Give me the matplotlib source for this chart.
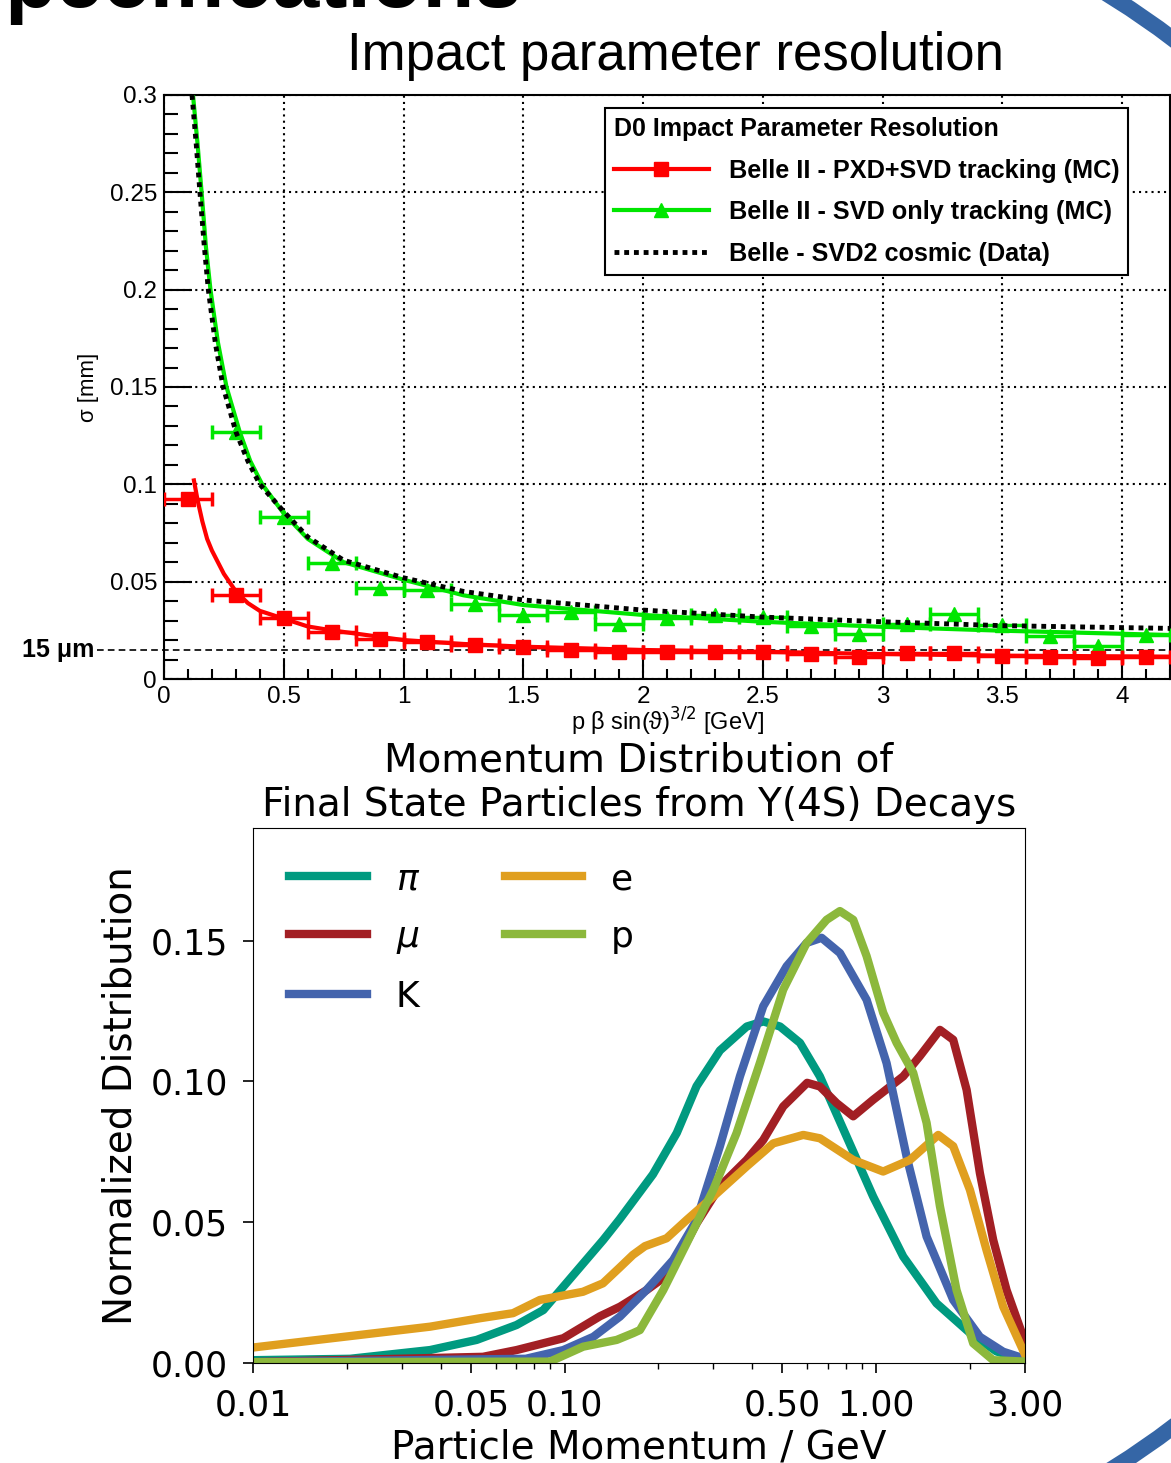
import numpy as np
import matplotlib
matplotlib.use('Agg')
import matplotlib.pyplot as plt
from matplotlib.lines import Line2D
from matplotlib.patches import Arc
from matplotlib.ticker import MultipleLocator, FuncFormatter, LogLocator, NullFormatter

W, H = 1171, 1463
TOP_FONT = ['Liberation Sans', 'DejaVu Sans']

# ---- top panel: D0 impact parameter resolution ----
pxd_svd_x = [0.1, 0.3, 0.5, 0.7, 0.9, 1.1, 1.3, 1.5, 1.7, 1.9, 2.1,
             2.3, 2.5, 2.7, 2.9, 3.1, 3.3, 3.5, 3.7, 3.9, 4.1]
pxd_svd_y = [0.0923, 0.0431, 0.0312, 0.0243, 0.0204, 0.0192, 0.0175, 0.0163, 0.0149, 0.0140, 0.0140,
             0.0140, 0.0140, 0.0128, 0.0115, 0.0132, 0.0132, 0.0118, 0.0115, 0.0106, 0.0111]
svd_only_x = [0.3, 0.5, 0.7, 0.9, 1.1, 1.3, 1.5, 1.7, 1.9, 2.1,
              2.3, 2.5, 2.7, 2.9, 3.1, 3.3, 3.5, 3.7, 3.9, 4.1]
svd_only_y = [0.127, 0.0834, 0.0598, 0.0466, 0.0457, 0.0385, 0.0331, 0.0345, 0.0282, 0.0311,
              0.0329, 0.0317, 0.0272, 0.0231, 0.0285, 0.0336, 0.0277, 0.0221, 0.0170, 0.0226]
bin_half_width = 0.1

# fitted curves
red_fit_x = [0.125, 0.14, 0.16, 0.18, 0.2, 0.25, 0.3, 0.35, 0.4, 0.5, 0.6, 0.7, 0.85, 1.0,
             1.25, 1.5, 2.0, 2.5, 3.0, 3.5, 4.2]
red_fit_y = [0.102, 0.092, 0.081, 0.072, 0.066, 0.054, 0.045, 0.039, 0.035, 0.031, 0.027, 0.025,
             0.0225, 0.020, 0.018, 0.0166, 0.0149, 0.014, 0.0128, 0.012, 0.0115]
green_fit_x = [0.121, 0.14, 0.157, 0.175, 0.194, 0.225, 0.261, 0.316, 0.36, 0.41, 0.5, 0.6, 0.75,
               1.0, 1.25, 1.5, 2.0, 2.5, 3.0, 3.5, 4.2]
green_fit_y = [0.300, 0.275, 0.250, 0.222, 0.200, 0.173, 0.150, 0.127, 0.112, 0.100, 0.085, 0.072,
               0.060, 0.051, 0.043, 0.038, 0.0329, 0.0294, 0.0268, 0.0248, 0.0226]
belle_x = [0.117, 0.135, 0.150, 0.167, 0.185, 0.215, 0.247, 0.300, 0.35, 0.40, 0.5, 0.6, 0.75,
           1.0, 1.25, 1.5, 2.0, 2.5, 3.0, 3.5, 4.2]
belle_y = [0.300, 0.274, 0.250, 0.224, 0.200, 0.172, 0.150, 0.127, 0.112, 0.100, 0.086, 0.073,
           0.061, 0.052, 0.045, 0.0406, 0.0354, 0.0318, 0.0294, 0.0274, 0.026]
ref_level = 0.015

# ---- bottom panel: momentum distributions ----
pion_p = [0.01, 0.0205, 0.037, 0.0522, 0.0701, 0.0854, 0.099, 0.133, 0.150, 0.192, 0.229, 0.265,
          0.315, 0.384, 0.434, 0.491, 0.569, 0.659, 0.803, 0.977, 1.22, 1.56, 2.00, 2.43, 3.00]
pion_y = [0.001, 0.0015, 0.0046, 0.0082, 0.0135, 0.0188, 0.0271, 0.0437, 0.0510, 0.0670, 0.0817,
          0.0983, 0.111, 0.1195, 0.1213, 0.1195, 0.1137, 0.1018, 0.0804, 0.0591, 0.0378, 0.0212,
          0.0106, 0.0041, 0.001]
muon_p = [0.01, 0.0547, 0.0701, 0.099, 0.1298, 0.1505, 0.1833, 0.2177, 0.2651, 0.3149, 0.3836,
          0.4337, 0.5027, 0.600, 0.6593, 0.7459, 0.8432, 0.9774, 1.22, 1.38, 1.60, 1.765, 1.949,
          2.15, 2.372, 2.618, 3.00]
muon_y = [0.0003, 0.0022, 0.0046, 0.0088, 0.0166, 0.020, 0.0259, 0.0319, 0.0496, 0.0627, 0.0721,
          0.0792, 0.0911, 0.0995, 0.0982, 0.0923, 0.0876, 0.0935, 0.1018, 0.109, 0.1183, 0.1148,
          0.097, 0.0674, 0.0437, 0.0259, 0.0075]
kaon_p = [0.01, 0.075, 0.099, 0.1236, 0.1505, 0.1833, 0.223, 0.2651, 0.3149, 0.3651, 0.4337,
          0.5155, 0.5977, 0.6676, 0.7643, 0.9309, 1.079, 1.251, 1.45, 1.765, 2.15, 2.554, 3.00]
kaon_y = [0.0003, 0.0015, 0.0046, 0.0093, 0.0165, 0.026, 0.0366, 0.0508, 0.077, 0.1018, 0.1267,
          0.1409, 0.1492, 0.151, 0.1456, 0.129, 0.1065, 0.0733, 0.0449, 0.0224, 0.0093, 0.004,
          0.0015]
electron_p = [0.01, 0.037, 0.0535, 0.0683, 0.0833, 0.1145, 0.1327, 0.1505, 0.1656, 0.181, 0.2124,
              0.2463, 0.2998, 0.3836, 0.467, 0.5829, 0.6593, 0.8432, 1.052, 1.282, 1.58, 1.765,
              1.997, 2.259, 2.554, 3.00]
electron_y = [0.0055, 0.0129, 0.0159, 0.0177, 0.0224, 0.0253, 0.0283, 0.034, 0.0384, 0.0415,
              0.0443, 0.0508, 0.0591, 0.0698, 0.078, 0.081, 0.0798, 0.0721, 0.068, 0.0721, 0.081,
              0.077, 0.0615, 0.040, 0.020, 0.003]
proton_p = [0.01, 0.0897, 0.1147, 0.1469, 0.1659, 0.1744, 0.1878, 0.2072, 0.2463, 0.2998, 0.3563,
            0.4232, 0.5027, 0.5977, 0.6927, 0.7643, 0.8432, 0.9309, 1.052, 1.162, 1.313, 1.45,
            1.60, 1.809, 2.046, 2.372, 3.00]
proton_y = [0.0003, 0.0005, 0.0058, 0.0082, 0.0106, 0.0117, 0.0178, 0.0259, 0.0425, 0.0615, 0.0817,
            0.1066, 0.1326, 0.1492, 0.1574, 0.1605, 0.1574, 0.1445, 0.1244, 0.1137, 0.1031, 0.0853,
            0.0557, 0.0259, 0.007, 0.001, 0.0005]

momentum_ticks = [0.01, 0.05, 0.10, 0.50, 1.00, 3.00]
momentum_labels = ['0.01', '0.05', '0.10', '0.50', '1.00', '3.00']
dist_ticks = [0.00, 0.05, 0.10, 0.15]
dist_labels = ['0.00', '0.05', '0.10', '0.15']


def px(x, y):
    # pixel position (from top left) -> figure fraction
    return (x / W, 1 - y / H)


fig = plt.figure(figsize=(W / 100, H / 100), dpi=100)

# slide decorations
fig.text(*px(4, 7), 'pecifications', family=TOP_FONT, fontsize=61, fontweight='bold',
         ha='left', va='baseline')
fig.text(*px(675, 70), 'Impact parameter resolution', family=TOP_FONT, fontsize=38,
         ha='center', va='baseline')
fig.add_artist(Arc(px(650, 733), 2 * 869 / W, 2 * 869 / H, theta1=-70, theta2=70,
                   transform=fig.transFigure, edgecolor='#3566a6', lw=11.5, zorder=-5))

# ---------------- top panel ----------------
ax1 = fig.add_axes([164 / W, 1 - 679 / H, 1006 / W, 584 / H])
green = '#00e600'
ax1.plot(green_fit_x, green_fit_y, color=green, lw=3, zorder=3)
ax1.plot(belle_x, belle_y, color='black', lw=3.5, ls=(0, (1, 1)), zorder=4)
ax1.errorbar(svd_only_x, svd_only_y, xerr=bin_half_width, fmt='^', color=green, ms=10,
             elinewidth=2.5, capsize=5, capthick=2.5, zorder=3)
ax1.plot(red_fit_x, red_fit_y, color='red', lw=3, zorder=5)
ax1.errorbar(pxd_svd_x, pxd_svd_y, xerr=bin_half_width, fmt='s', color='red', ms=10,
             elinewidth=2.5, capsize=5, capthick=2.5, zorder=5)

ax1.plot([-0.28, 4.2], [ref_level, ref_level], color='black', ls=(0, (4, 2.5)), lw=1.2,
         clip_on=False, zorder=2)
ax1.text(-0.29, ref_level, '15 μm', ha='right', va='center', fontsize=18, fontweight='bold',
         family=TOP_FONT)

ax1.set_xlim(0, 4.2)
ax1.set_ylim(0, 0.3)
ax1.xaxis.set_major_locator(MultipleLocator(0.5))
ax1.xaxis.set_minor_locator(MultipleLocator(0.1))
ax1.yaxis.set_major_locator(MultipleLocator(0.05))
ax1.yaxis.set_minor_locator(MultipleLocator(0.01))
fmt = FuncFormatter(lambda v, pos: f'{v:g}')
ax1.xaxis.set_major_formatter(fmt)
ax1.yaxis.set_major_formatter(fmt)
ax1.tick_params(which='both', direction='in', top=False, right=False, labelsize=17.5,
                labelfontfamily='Liberation Sans', width=1.5)
ax1.tick_params(axis='x', which='major', length=14, pad=5)
ax1.tick_params(axis='x', which='minor', length=7)
ax1.tick_params(axis='y', which='major', length=20, pad=5)
ax1.tick_params(axis='y', which='minor', length=10)
ax1.grid(which='major', color='black', ls=(0, (1, 2)), lw=1.5)
for s in ax1.spines.values():
    s.set_linewidth(1.5)

ax1.set_ylabel('σ [mm]', family=TOP_FONT, fontsize=16)
ax1.yaxis.set_label_coords(-0.065, 0.5)
ax1.set_xlabel('p β sin(ϑ)$^{3/2}$ [GeV]', family=TOP_FONT, fontsize=17)
ax1.xaxis.set_label_coords(0.5, -0.046)

handles = [
    Line2D([], [], color='red', lw=3, marker='s', ms=10),
    Line2D([], [], color=green, lw=3, marker='^', ms=10),
    Line2D([], [], color='black', lw=3.5, ls=(0, (1, 1))),
]
labels = ['Belle II - PXD+SVD tracking (MC)', 'Belle II - SVD only tracking (MC)',
          'Belle - SVD2 cosmic (Data)']
leg1 = ax1.legend(handles, labels, title='D0 Impact Parameter Resolution', loc='upper left',
                  bbox_to_anchor=px(605, 108), bbox_transform=fig.transFigure,
                  prop={'family': TOP_FONT, 'weight': 'bold', 'size': 18.2},
                  title_fontproperties={'family': TOP_FONT, 'weight': 'bold', 'size': 18},
                  alignment='left', fancybox=False, edgecolor='black', framealpha=1,
                  handlelength=3.75, handletextpad=0.8, labelspacing=0.7, borderpad=0.35,
                  borderaxespad=0)
leg1.get_frame().set_linewidth(1.5)
leg1.set_zorder(10)

# ---------------- bottom panel ----------------
ax2 = fig.add_axes([253 / W, 1 - 1363 / H, 772 / W, 535 / H])
ax2.plot(pion_p, pion_y, color='#009a80', lw=6, label=r'$\pi$')
ax2.plot(muon_p, muon_y, color='#a21f24', lw=6, label=r'$\mu$')
ax2.plot(kaon_p, kaon_y, color='#4464ad', lw=6, label='K')
ax2.plot(electron_p, electron_y, color='#e09f1f', lw=6, label='e')
ax2.plot(proton_p, proton_y, color='#8cb83c', lw=6, label='p')

ax2.set_xscale('log')
ax2.set_xlim(0.01, 3.0)
ax2.set_ylim(0, 0.19)
ax2.set_xticks(momentum_ticks)
ax2.set_xticklabels(momentum_labels)
ax2.xaxis.set_minor_locator(LogLocator(base=10, subs=np.arange(2, 10) * 1.0))
ax2.xaxis.set_minor_formatter(NullFormatter())
ax2.set_yticks(dist_ticks)
ax2.set_yticklabels(dist_labels)
ax2.tick_params(which='both', direction='out', labelsize=25)
ax2.tick_params(which='major', length=7, width=1.2, pad=11)
ax2.tick_params(which='minor', length=4, width=1)

ax2.set_title('Momentum Distribution of\nFinal State Particles from Υ(4S) Decays',
              fontsize=28, pad=9, linespacing=1.2)
ax2.set_xlabel('Particle Momentum / GeV', fontsize=28, labelpad=5)
ax2.set_ylabel('Normalized Distribution', fontsize=28, labelpad=8)

ax2.legend(ncol=2, loc='upper left', bbox_to_anchor=px(289, 862), bbox_transform=fig.transFigure,
           frameon=False, fontsize=26, handlelength=2.15, handletextpad=0.8,
           labelspacing=0.66, columnspacing=2.35, borderpad=0, borderaxespad=0)

fig.savefig('out.png', dpi=100)
